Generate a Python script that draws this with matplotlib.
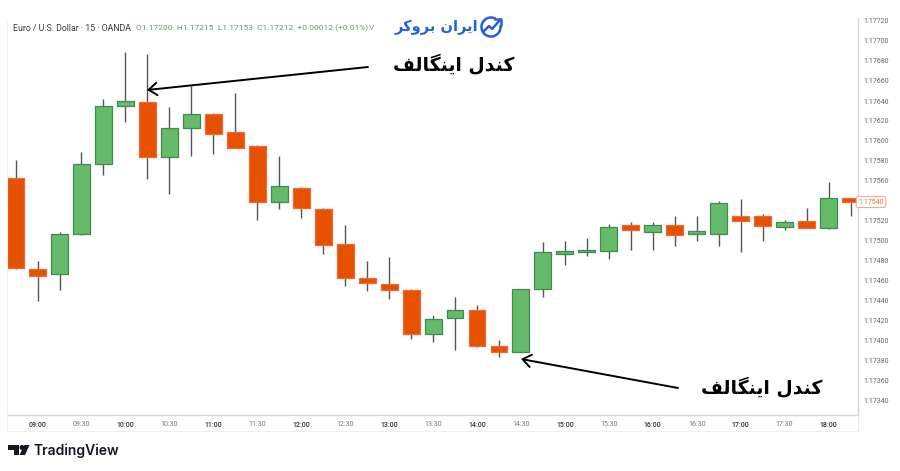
import matplotlib
matplotlib.use('Agg')
import matplotlib.pyplot as plt
from matplotlib.patches import Polygon, Circle, Arc

# EUR/USD 15 min candles
opens = [1.17563, 1.17472, 1.17467, 1.17507, 1.17577, 1.17635, 1.17639, 1.17584, 1.17613, 1.17627,
         1.17609, 1.17595, 1.17539, 1.17553, 1.17532, 1.17497, 1.17463, 1.17457, 1.17451, 1.17407,
         1.17423, 1.17431, 1.17395, 1.17389, 1.17452, 1.17487, 1.17489, 1.17490, 1.17516, 1.17509,
         1.17516, 1.17507, 1.17507, 1.17525, 1.17525, 1.17514, 1.17520, 1.17513, 1.17543]
highs = [1.17581, 1.17480, 1.17509, 1.17589, 1.17642, 1.17689, 1.17687, 1.17634, 1.17655, 1.17628,
         1.17648, 1.17596, 1.17585, 1.17554, 1.17533, 1.17516, 1.17480, 1.17484, 1.17452, 1.17426,
         1.17444, 1.17436, 1.17401, 1.17452, 1.17499, 1.17500, 1.17503, 1.17517, 1.17519, 1.17519,
         1.17525, 1.17525, 1.17540, 1.17542, 1.17527, 1.17521, 1.17533, 1.17559, 1.17543]
lows = [1.17472, 1.17440, 1.17451, 1.17506, 1.17566, 1.17619, 1.17562, 1.17547, 1.17585, 1.17587,
        1.17593, 1.17521, 1.17532, 1.17523, 1.17487, 1.17455, 1.17450, 1.17442, 1.17402, 1.17399,
        1.17391, 1.17394, 1.17384, 1.17389, 1.17444, 1.17476, 1.17485, 1.17482, 1.17491, 1.17491,
        1.17495, 1.17500, 1.17495, 1.17489, 1.17500, 1.17511, 1.17513, 1.17512, 1.17525]
closes = [1.17473, 1.17465, 1.17507, 1.17577, 1.17635, 1.17640, 1.17584, 1.17613, 1.17627, 1.17607,
          1.17593, 1.17539, 1.17555, 1.17533, 1.17496, 1.17463, 1.17458, 1.17451, 1.17407, 1.17422,
          1.17431, 1.17395, 1.17389, 1.17452, 1.17489, 1.17490, 1.17491, 1.17514, 1.17511, 1.17516,
          1.17506, 1.17510, 1.17538, 1.17520, 1.17515, 1.17519, 1.17513, 1.17543, 1.17539]

time_labels = ['09:00', '09:30', '10:00', '10:30', '11:00', '11:30', '12:00', '12:30', '13:00', '13:30',
               '14:00', '14:30', '15:00', '15:30', '16:00', '16:30', '17:00', '17:30', '18:00']
time_ticks = list(range(1, 38, 2))
# 1.17540 is left out, the last price tag sits there
price_ticks = [1.17340, 1.17360, 1.17380, 1.17400, 1.17420, 1.17440, 1.17460, 1.17480, 1.17500, 1.17520,
               1.17560, 1.17580, 1.17600, 1.17620, 1.17640, 1.17660, 1.17680, 1.17700, 1.17720]
last_price = 1.17540

# kandel engulf / iran broker, already shaped, in visual order
engulf_text = '\ufed2\ufedf\ufe8e\ufb95\ufee8\ufbfe\ufe8d \ufedd\ufeaa\ufee8\ufb90'
logo_text = '\ufeae\ufb90\ufeed\ufeae\ufe91 \ufee5\ufe8d\ufeae\ufbfe\ufe8d'

red = '#e65100'
green = '#66bb6a'
blue = '#2560d8'

fig = plt.figure(figsize=(9, 4.71), dpi=100)
ax = fig.add_axes([7 / 900, 1 - 415 / 471, 851 / 900, 397 / 471])
ax.set_xlim(-0.39, 38.34)
ax.set_ylim(1.17326, 1.17723)

for i in range(len(opens)):
    up = closes[i] >= opens[i]
    body_edge = '#3d8b50' if up else '#f0693a'
    ax.vlines(i, lows[i], highs[i], color='#555555', linewidth=1.0, zorder=2)
    ax.bar(i, abs(closes[i] - opens[i]), bottom=min(opens[i], closes[i]), width=0.77,
           color=green if up else red, edgecolor=body_edge, linewidth=0.9, zorder=3)

ax.yaxis.tick_right()
ax.set_yticks(price_ticks)
ax.set_yticklabels(['%.5f' % p for p in price_ticks], fontsize=5, color='#666666', family='Roboto')
ax.set_xticks(time_ticks)
ax.set_xticklabels(time_labels, fontsize=5, color='#777777', family='Roboto')
for label, text in zip(ax.get_xticklabels(), time_labels):
    if text.endswith(':00'):
        label.set_color('#333333')
        label.set_fontweight('medium')
ax.tick_params(axis='both', length=0)
ax.tick_params(axis='y', pad=4)
ax.tick_params(axis='x', pad=4.5)
for side in ['top', 'left']:
    ax.spines[side].set_visible(False)
for side in ['right', 'bottom']:
    ax.spines[side].set_color('#d6d6d6')
    ax.spines[side].set_linewidth(1.0)

# overlay in image pixels for the annotations and logos
over = fig.add_axes([0, 0, 1, 1], zorder=5)
over.set_xlim(0, 900)
over.set_ylim(471, 0)
over.axis('off')
over.patch.set_alpha(0)

over.plot([7, 7], [20, 431], color='#f0f0f0', lw=0.8)
over.plot([7, 858], [431, 431], color='#f0f0f0', lw=0.8)
over.plot([858, 858], [415, 431], color='#e6e6e6', lw=0.8)

# header line
over.text(13, 28.5, 'Euro / U.S. Dollar \u00b7 15 \u00b7 OANDA', fontsize=6.3, color='#3a3a3a',
          va='center', family='Roboto')
over.text(136, 28.5, 'O1.17200  H1.17215  L1.17153  C1.17212  +0.00012 (+0.01%)', fontsize=6,
          color='#5c9a68', va='center', family='Roboto')
over.text(369, 28.5, 'V', fontsize=6, color='#999999', va='center', family='Roboto')

# last price tag
over.text(871, 202, '%.5f' % last_price, fontsize=5, color='#e8763a', ha='center', va='center',
          family='Roboto', bbox=dict(boxstyle='round,pad=0.3', fc='white', ec='#eda67e', lw=0.7))

# annotations
over.annotate('', xy=(147, 90), xytext=(368, 67),
              arrowprops=dict(arrowstyle='->,head_length=0.6,head_width=0.45', color='black', lw=1.4,
                              shrinkA=0, shrinkB=0))
over.annotate('', xy=(521, 359), xytext=(678, 388),
              arrowprops=dict(arrowstyle='->,head_length=0.6,head_width=0.45', color='black', lw=1.4,
                              shrinkA=0, shrinkB=0))
over.text(454, 65, engulf_text, fontsize=13.5, fontweight='bold', color='black', ha='center',
          va='center', family='DejaVu Sans')
over.text(762, 388, engulf_text, fontsize=13.5, fontweight='bold', color='black', ha='center',
          va='center', family='DejaVu Sans')

# iran broker logo
over.text(436, 27, logo_text, fontsize=10.5, fontweight='bold', color=blue, ha='center', va='center',
          family='DejaVu Sans')
over.add_patch(Arc((491, 27), 19, 19, theta1=-10, theta2=300, color=blue, lw=1.8))
over.plot([484, 489, 492, 500], [31, 26, 29, 20], color=blue, lw=1.8)
over.plot([495, 501, 501], [19, 19, 25], color=blue, lw=1.8)

# tradingview logo
over.add_patch(Polygon([(8, 445), (19, 445), (19, 455), (14, 455), (14, 450), (8, 450)], fc='#131722', ec='none'))
over.add_patch(Circle((22, 447.5), 2.5, fc='#131722', ec='none'))
over.add_patch(Polygon([(24.5, 445), (29.5, 445), (25, 455), (19.5, 455)], fc='#131722', ec='none'))
over.text(34, 450.5, 'TradingView', fontsize=10, fontweight='semibold', color='#131722', va='center',
          family='Inter')

fig.savefig('out.png', dpi=100)
